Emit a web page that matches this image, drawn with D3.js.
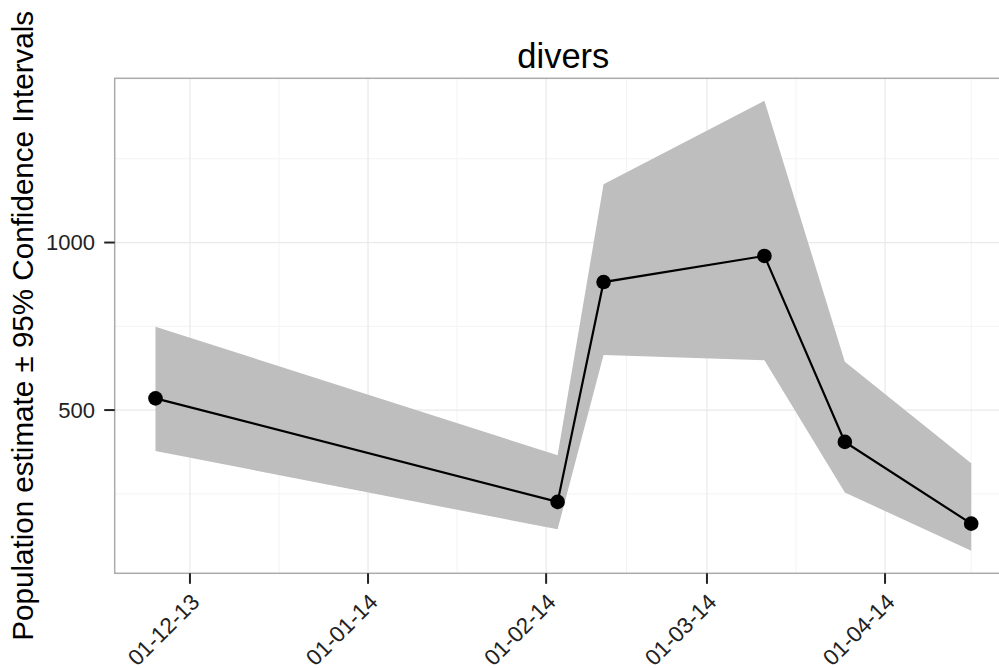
<!DOCTYPE html>
<html>
<head>
<meta charset="utf-8">
<script src="https://cdn.jsdelivr.net/npm/d3@7"></script>
<style>
  html, body { margin: 0; padding: 0; background: #fff; }
  svg { display: block; font-family: "Liberation Sans", Arial, Helvetica, sans-serif; }
</style>
</head>
<body>
<svg id="chart" width="999" height="668"></svg>
<script>
// ---- data ----
const dates = ["2013-11-25", "2014-02-03", "2014-02-11", "2014-03-11", "2014-03-25", "2014-04-16"];
const estimates = [535, 226, 882, 960, 405, 161];
const lower = [378, 144, 664, 649, 254, 80];
const upper = [749, 365, 1174, 1423, 644, 341];
const xTickDates = ["2013-12-01", "2014-01-01", "2014-02-01", "2014-03-01", "2014-04-01"];
const xTickLabels = ["01-12-13", "01-01-14", "01-02-14", "01-03-14", "01-04-14"];
const yTicks = [500, 1000];
const yMinor = [250, 750, 1250];
const title = "divers";
const yTitle = "Population estimate \u00b1 95% Confidence Intervals";

const parse = d3.utcParse("%Y-%m-%d");
const data = dates.map((d, i) => ({ date: parse(d), est: estimates[i], lo: lower[i], hi: upper[i] }));

// ---- layout ----
const svg = d3.select("#chart");
const panel = { left: 114.7, right: 1012, top: 78.3, bottom: 573.3 };

// x scale with 5% expansion (ggplot style)
const xExt = d3.extent(data, d => d.date);
const xPad = (xExt[1] - xExt[0]) * 0.05;
const x = d3.scaleUtc()
  .domain([new Date(+xExt[0] - xPad), new Date(+xExt[1] + xPad)])
  .range([panel.left, panel.right]);

const yLo = d3.min(lower), yHi = d3.max(upper);
const yPad = (yHi - yLo) * 0.05;
const y = d3.scaleLinear()
  .domain([yLo - yPad, yHi + yPad])
  .range([panel.bottom, panel.top]);

// clip for panel
svg.append("defs").append("clipPath").attr("id", "clip")
  .append("rect").attr("x", panel.left).attr("y", panel.top)
  .attr("width", panel.right - panel.left).attr("height", panel.bottom - panel.top);

const g = svg.append("g").attr("clip-path", "url(#clip)");

// minor x gridlines: midpoints between majors (including outer months)
const majorX = xTickDates.map(parse);
const extMajor = [d3.utcMonth.offset(majorX[0], -1), ...majorX, d3.utcMonth.offset(majorX[majorX.length - 1], 1)];
const minorX = [];
for (let i = 0; i < extMajor.length - 1; i++) minorX.push(new Date((+extMajor[i] + +extMajor[i + 1]) / 2));

g.selectAll("line.minx").data(minorX).join("line")
  .attr("x1", d => x(d)).attr("x2", d => x(d))
  .attr("y1", panel.top).attr("y2", panel.bottom)
  .attr("stroke", "#f3f3f3").attr("stroke-width", 1);
g.selectAll("line.miny").data(yMinor).join("line")
  .attr("x1", panel.left).attr("x2", panel.right)
  .attr("y1", d => y(d)).attr("y2", d => y(d))
  .attr("stroke", "#f3f3f3").attr("stroke-width", 1);
g.selectAll("line.majx").data(majorX).join("line")
  .attr("x1", d => x(d)).attr("x2", d => x(d))
  .attr("y1", panel.top).attr("y2", panel.bottom)
  .attr("stroke", "#e9e9e9").attr("stroke-width", 1.2);
g.selectAll("line.majy").data(yTicks).join("line")
  .attr("x1", panel.left).attr("x2", panel.right)
  .attr("y1", d => y(d)).attr("y2", d => y(d))
  .attr("stroke", "#e9e9e9").attr("stroke-width", 1.2);

// ribbon
const area = d3.area().x(d => x(d.date)).y0(d => y(d.lo)).y1(d => y(d.hi));
g.append("path").datum(data).attr("d", area).attr("fill", "#bebebe");

// line
const line = d3.line().x(d => x(d.date)).y(d => y(d.est));
g.append("path").datum(data).attr("d", line)
  .attr("fill", "none").attr("stroke", "#000").attr("stroke-width", 2.2);

// points
g.selectAll("circle").data(data).join("circle")
  .attr("cx", d => x(d.date)).attr("cy", d => y(d.est)).attr("r", 7.3).attr("fill", "#000");

// panel border
svg.append("rect").attr("x", panel.left).attr("y", panel.top)
  .attr("width", panel.right - panel.left).attr("height", panel.bottom - panel.top)
  .attr("fill", "none").attr("stroke", "#ababab").attr("stroke-width", 1.5);

// y axis ticks + labels
const yAxis = svg.append("g");
yAxis.selectAll("line").data(yTicks).join("line")
  .attr("x1", panel.left - 10.5).attr("x2", panel.left)
  .attr("y1", d => y(d)).attr("y2", d => y(d))
  .attr("stroke", "#222").attr("stroke-width", 2);
yAxis.selectAll("text").data(yTicks).join("text")
  .attr("x", 95).attr("y", d => y(d)).attr("dy", "0.36em")
  .attr("text-anchor", "end").attr("font-size", 22).attr("fill", "#222")
  .text(d => d);

// x axis ticks + labels
const xAxis = svg.append("g");
xAxis.selectAll("line").data(majorX).join("line")
  .attr("x1", d => x(d)).attr("x2", d => x(d))
  .attr("y1", panel.bottom).attr("y2", panel.bottom + 10.5)
  .attr("stroke", "#222").attr("stroke-width", 2);
xAxis.selectAll("text").data(majorX).join("text")
  .attr("transform", d => `translate(${x(d) + 11},${panel.bottom + 30}) rotate(-45)`)
  .attr("text-anchor", "end").attr("font-size", 22.5).attr("fill", "#222")
  .text((d, i) => xTickLabels[i]);

// title
svg.append("text").attr("x", (panel.left + panel.right) / 2).attr("y", 68)
  .attr("text-anchor", "middle").attr("font-size", 34.5).attr("fill", "#000")
  .text(title);

// y title
svg.append("text").attr("transform", `translate(33,${(panel.top + panel.bottom) / 2}) rotate(-90)`)
  .attr("text-anchor", "middle").attr("font-size", 29.6).attr("fill", "#000")
  .text(yTitle);
</script>
</body>
</html>
